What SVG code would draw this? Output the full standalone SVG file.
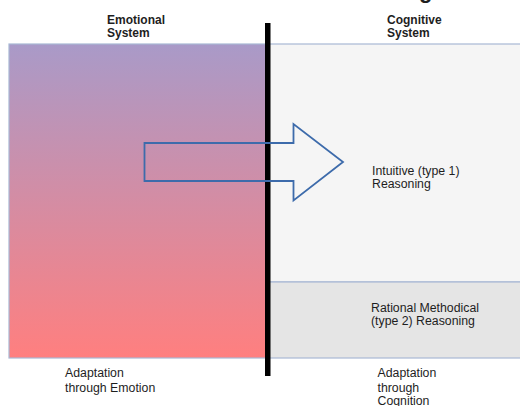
<svg xmlns="http://www.w3.org/2000/svg" width="520" height="406" viewBox="0 0 520 406">
  <defs>
    <linearGradient id="emoFill" x1="0" y1="0" x2="0" y2="1">
      <stop offset="0" stop-color="#a99ac8"/>
      <stop offset="1" stop-color="#ff7f7f"/>
    </linearGradient>
  </defs>
  <style>
    text { font-family: "Liberation Sans", Arial, sans-serif; fill: #1e1e1e; }
    .head { font-size: 12px; font-weight: bold; }
    .lbl { font-size: 12.3px; }
    .panel { stroke: #a8b8d4; stroke-width: 1.2; }
  </style>
  <rect width="520" height="406" fill="#ffffff"/>

  <!-- clipped title glyph at the very top -->
  <text x="419" y="-2" style="font-size:22px;font-weight:bold">g</text>

  <!-- Emotional system panel -->
  <g id="emotional-system">
    <rect class="panel" x="9" y="44" width="259" height="314" fill="url(#emoFill)" stroke="#9a92c4"/>
    <text class="head" x="107" y="24">Emotional</text>
    <text class="head" x="107" y="37">System</text>
  </g>

  <!-- Cognitive system panel -->
  <g id="cognitive-system">
    <rect class="panel" x="268" y="44" width="260" height="238" fill="#f5f5f5"/>
    <text class="head" x="387" y="24">Cognitive</text>
    <text class="head" x="387" y="37">System</text>
  </g>

  <g id="rational-reasoning">
    <rect class="panel" x="268" y="282" width="260" height="76" fill="#e5e5e5"/>
    <text class="lbl" x="371" y="312">Rational Methodical</text>
    <text class="lbl" x="371" y="325">(type 2) Reasoning</text>
  </g>

  <g id="intuitive-reasoning">
    <text class="lbl" x="372" y="175">Intuitive (type 1)</text>
    <text class="lbl" x="372" y="188">Reasoning</text>
  </g>

  <!-- dividing bar -->
  <g id="divider">
    <rect x="265" y="23" width="5.5" height="353" fill="#000000"/>
  </g>

  <!-- block arrow -->
  <g id="connectors">
    <path d="M144.5,143 L293.5,143 L293.5,124 L343,162 L293.5,200.5 L293.5,181 L144.5,181 Z"
          fill="none" stroke="#3d6bab" stroke-width="1.8" stroke-linejoin="miter"/>
  </g>

  <!-- footer labels -->
  <g id="footer-emotion">
    <text class="lbl" x="65" y="377">Adaptation</text>
    <text class="lbl" x="65" y="391.5">through Emotion</text>
  </g>
  <g id="footer-cognition">
    <text class="lbl" x="377.5" y="377">Adaptation</text>
    <text class="lbl" x="377.5" y="391.5">through</text>
    <text class="lbl" x="377.5" y="405">Cognition</text>
  </g>
</svg>
